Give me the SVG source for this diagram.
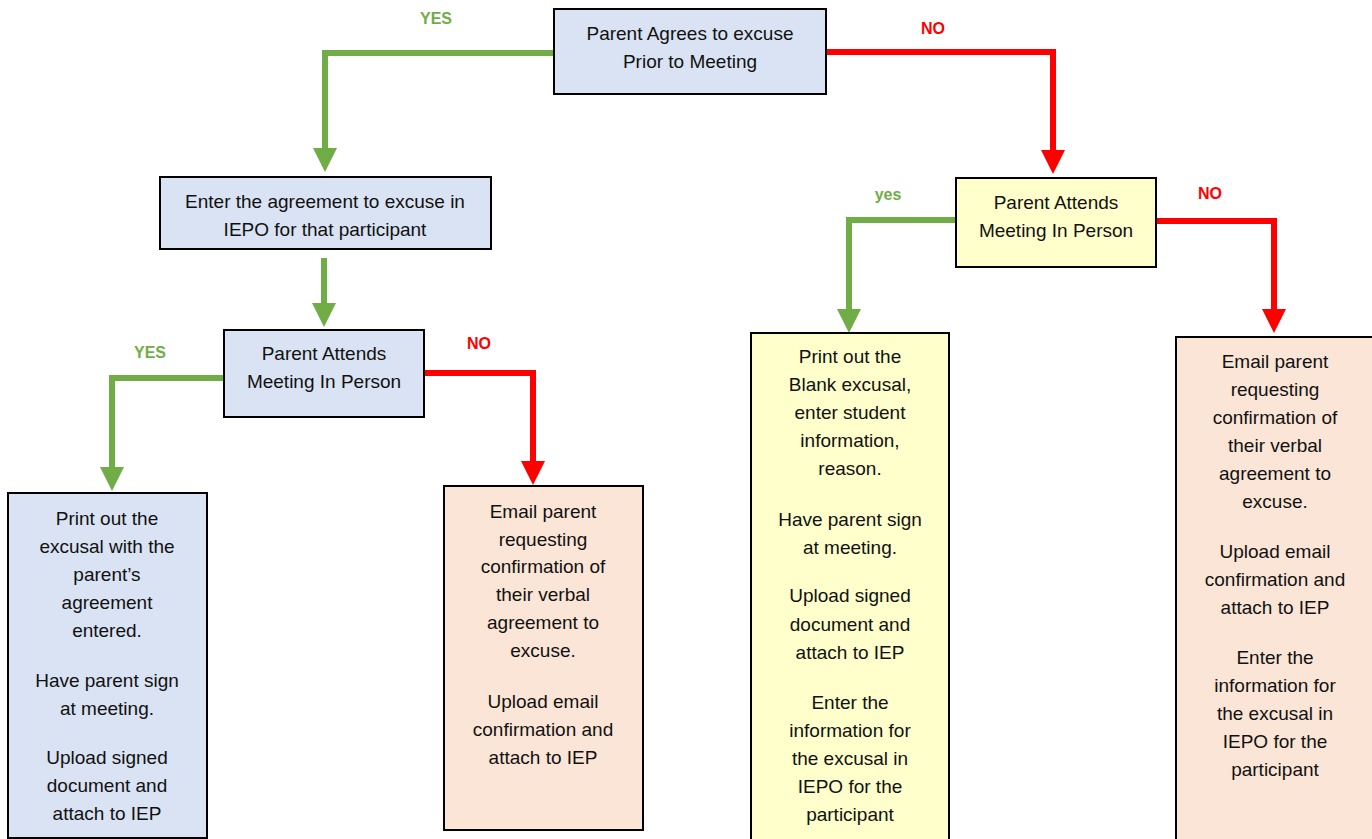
<svg xmlns="http://www.w3.org/2000/svg" width="1372" height="839" viewBox="0 0 1372 839">
<style>
.box{stroke:#000;stroke-width:2}
.blue{fill:#dae3f3}
.peach{fill:#fbe5d6}
.yel{fill:#ffffcc}
.t{font-family:"Liberation Sans",Arial,sans-serif;font-size:19px;fill:#111;text-anchor:middle}
.lbl{font-family:"Liberation Sans",Arial,sans-serif;font-size:16px;font-weight:bold;text-anchor:middle}
.g{fill:#70ad47}
.r{fill:#ff0000}
.cg{fill:none;stroke:#70ad47;stroke-width:6;stroke-linejoin:miter}
.cr{fill:none;stroke:#ff0000;stroke-width:6;stroke-linejoin:miter}
</style>
<defs>
<marker id="ag" viewBox="0 0 4 4" refX="0" refY="2" markerWidth="4" markerHeight="4" orient="auto" markerUnits="strokeWidth"><path d="M0,0 L4,2 L0,4 z" fill="#70ad47"/></marker>
<marker id="ar" viewBox="0 0 4 4" refX="0" refY="2" markerWidth="4" markerHeight="4" orient="auto" markerUnits="strokeWidth"><path d="M0,0 L4,2 L0,4 z" fill="#ff0000"/></marker>
</defs>
<rect width="1372" height="839" fill="#fff"/>
<g id="connectors">
<path class="cg" d="M554,53 H325 V148" marker-end="url(#ag)"/>
<path class="cr" d="M826,52 H1053 V150" marker-end="url(#ar)"/>
<path class="cg" d="M324,258 V303" marker-end="url(#ag)"/>
<path class="cg" d="M224,378 H112 V467" marker-end="url(#ag)"/>
<path class="cr" d="M424,373 H533 V461" marker-end="url(#ar)"/>
<path class="cg" d="M956,220 H849 V309" marker-end="url(#ag)"/>
<path class="cr" d="M1156,221 H1274 V309" marker-end="url(#ar)"/>
<text class="lbl g" x="436" y="24">YES</text>
<text class="lbl r" x="933" y="34">NO</text>
<text class="lbl g" x="150" y="358">YES</text>
<text class="lbl r" x="479" y="349">NO</text>
<text class="lbl g" x="888" y="200">yes</text>
<text class="lbl r" x="1210" y="199">NO</text>
</g>
<g id="n1">
<rect class="box blue" x="554" y="9" width="272" height="85"/>
<text class="t" x="690" y="40">Parent Agrees to excuse</text>
<text class="t" x="690" y="68">Prior to Meeting</text>
</g>
<g id="n2">
<rect class="box blue" x="160" y="177" width="331" height="72"/>
<text class="t" x="325" y="208">Enter the agreement to excuse in</text>
<text class="t" x="325" y="236">IEPO for that participant</text>
</g>
<g id="n3">
<rect class="box blue" x="224" y="330" width="200" height="87"/>
<text class="t" x="324" y="360">Parent Attends</text>
<text class="t" x="324" y="388">Meeting In Person</text>
</g>
<g id="n4">
<rect class="box blue" x="8" y="493" width="199" height="345"/>
<text class="t" x="107" y="525">Print out the</text>
<text class="t" x="107" y="553">excusal with the</text>
<text class="t" x="107" y="581">parent’s</text>
<text class="t" x="107" y="609">agreement</text>
<text class="t" x="107" y="637">entered.</text>
<text class="t" x="107" y="687">Have parent sign</text>
<text class="t" x="107" y="715">at meeting.</text>
<text class="t" x="107" y="764">Upload signed</text>
<text class="t" x="107" y="792">document and</text>
<text class="t" x="107" y="820">attach to IEP</text>
</g>
<g id="n5">
<rect class="box peach" x="444" y="486" width="199" height="344"/>
<text class="t" x="543" y="518">Email parent</text>
<text class="t" x="543" y="546">requesting</text>
<text class="t" x="543" y="573">confirmation of</text>
<text class="t" x="543" y="601">their verbal</text>
<text class="t" x="543" y="629">agreement to</text>
<text class="t" x="543" y="657">excuse.</text>
<text class="t" x="543" y="708">Upload email</text>
<text class="t" x="543" y="736">confirmation and</text>
<text class="t" x="543" y="764">attach to IEP</text>
</g>
<g id="n6">
<rect class="box yel" x="956" y="178" width="200" height="89"/>
<text class="t" x="1056" y="209">Parent Attends</text>
<text class="t" x="1056" y="237">Meeting In Person</text>
</g>
<g id="n7">
<rect class="box yel" x="751" y="333" width="198" height="510"/>
<text class="t" x="850" y="363">Print out the</text>
<text class="t" x="850" y="391">Blank excusal,</text>
<text class="t" x="850" y="419">enter student</text>
<text class="t" x="850" y="447">information,</text>
<text class="t" x="850" y="475">reason.</text>
<text class="t" x="850" y="526">Have parent sign</text>
<text class="t" x="850" y="554">at meeting.</text>
<text class="t" x="850" y="602">Upload signed</text>
<text class="t" x="850" y="631">document and</text>
<text class="t" x="850" y="659">attach to IEP</text>
<text class="t" x="850" y="709">Enter the</text>
<text class="t" x="850" y="737">information for</text>
<text class="t" x="850" y="765">the excusal in</text>
<text class="t" x="850" y="793">IEPO for the</text>
<text class="t" x="850" y="821">participant</text>
</g>
<g id="n8">
<rect class="box peach" x="1176" y="337" width="200" height="506"/>
<text class="t" x="1275" y="368">Email parent</text>
<text class="t" x="1275" y="396">requesting</text>
<text class="t" x="1275" y="424">confirmation of</text>
<text class="t" x="1275" y="452">their verbal</text>
<text class="t" x="1275" y="480">agreement to</text>
<text class="t" x="1275" y="508">excuse.</text>
<text class="t" x="1275" y="558">Upload email</text>
<text class="t" x="1275" y="586">confirmation and</text>
<text class="t" x="1275" y="614">attach to IEP</text>
<text class="t" x="1275" y="664">Enter the</text>
<text class="t" x="1275" y="692">information for</text>
<text class="t" x="1275" y="720">the excusal in</text>
<text class="t" x="1275" y="748">IEPO for the</text>
<text class="t" x="1275" y="776">participant</text>
</g>
</svg>
